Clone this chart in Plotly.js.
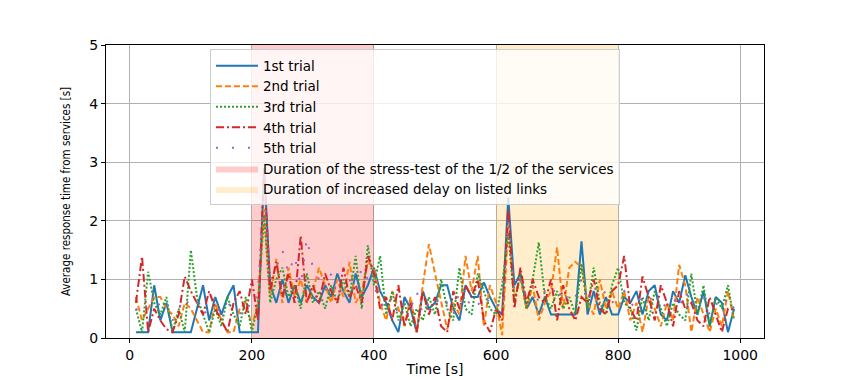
<!DOCTYPE html>
<html>
<head>
<meta charset="utf-8">
<script src="https://cdn.plot.ly/plotly-3.0.1.min.js"></script>
<style>html,body{margin:0;padding:0;background:#fff;}#chart{width:850px;height:380px;}</style>
</head>
<body>
<div id="chart"></div>
<script>
// Time axis: one sample every 10 s
const times = [];
for (let t = 10; t <= 990; t += 10) times.push(t);

const trial1 = [
  0.1,0.1,0.1,0.9,0.3,0.6,0.1,0.1,0.1,0.1,
  0.5,0.9,0.3,0.7,0.4,0.7,0.9,0.1,0.1,0.1,
  0.1,2.9,0.9,0.6,1.0,0.6,0.9,0.6,0.9,0.7,
  0.6,0.9,0.7,1.1,0.8,0.6,1.1,0.7,0.9,1.2,
  0.8,0.6,0.3,0.1,0.7,0.5,0.1,0.8,0.5,0.6,
  0.9,0.9,0.5,0.3,0.9,0.7,0.7,0.95,0.7,0.5,
  0.4,2.4,0.9,1.1,0.5,0.7,0.4,0.7,0.4,0.4,
  0.4,0.4,0.4,1.65,0.4,0.8,0.4,0.7,0.4,0.4,
  0.7,0.6,0.8,0.4,0.8,0.9,0.4,0.3,0.8,0.6,
  1.07,0.7,0.4,0.8,0.2,0.7,0.6,0.1,0.5
];
const trial2 = [
  0.7,0.3,0.5,0.7,0.7,0.5,0.4,0.2,0.6,0.5,
  0.3,0.1,0.1,0.6,0.3,0.1,0.1,0.5,0.6,0.2,
  0.6,2.2,0.7,1.35,0.6,1.2,0.7,1.0,0.6,0.8,
  1.2,0.9,0.6,1.0,0.7,1.3,0.6,0.8,1.3,1.2,
  0.6,0.3,0.8,0.5,0.2,0.7,0.1,0.9,1.6,1.1,
  0.6,0.15,0.6,0.4,1.4,0.8,1.4,0.2,0.9,0.6,
  0.05,1.9,0.7,1.0,0.5,0.9,0.3,0.6,0.8,1.55,
  0.5,1.2,1.3,1.2,0.6,0.4,1.0,0.5,0.8,0.5,
  0.8,0.3,0.6,0.1,0.7,0.5,0.2,0.6,0.3,1.25,
  0.9,0.1,0.7,0.4,0.1,0.5,0.2,0.8,0.3
];
const trial3 = [
  0.5,0.1,1.13,0.6,0.4,0.7,0.1,0.5,0.1,1.5,
  0.7,0.4,0.1,0.5,0.2,0.7,0.4,0.2,0.7,0.1,
  0.6,2.1,0.6,1.0,1.2,0.7,0.9,0.5,1.1,0.6,
  0.8,0.5,0.9,0.6,1.0,0.7,1.4,0.5,1.58,0.9,
  1.4,0.4,0.8,0.3,0.6,0.2,0.5,0.3,0.7,0.4,
  1.0,0.5,0.3,1.2,0.5,0.4,1.1,0.8,0.5,0.4,
  0.9,1.8,0.6,1.1,0.5,1.0,1.63,0.7,0.5,0.8,
  0.5,0.7,0.4,1.27,0.5,1.2,0.6,0.4,0.9,1.2,
  0.6,0.5,0.13,0.7,0.3,0.8,0.5,0.2,0.6,0.4,
  0.3,1.1,0.4,0.9,0.2,0.7,0.5,0.9,0.3
];
const trial4 = [
  0.6,1.39,0.1,0.5,0.3,0.15,0.1,0.4,1.05,0.8,
  0.6,0.4,0.8,0.5,0.3,0.1,0.6,0.8,0.4,1.0,
  0.3,2.9,0.8,1.3,0.7,1.1,0.6,1.75,0.6,0.9,
  0.6,1.1,0.8,0.6,1.2,0.7,0.9,0.6,1.4,1.1,
  0.5,0.7,0.3,0.9,0.2,0.6,0.1,0.8,0.4,0.7,
  0.2,0.1,0.8,0.5,0.9,0.7,1.0,0.3,0.1,0.5,
  0.3,2.2,0.5,1.2,0.6,1.0,0.7,0.6,1.0,0.3,
  0.9,0.5,0.3,0.7,0.6,1.0,0.5,0.4,0.8,0.9,
  1.4,0.5,0.3,1.05,0.7,0.3,0.9,0.6,0.2,0.8,
  0.5,0.6,0.3,0.2,0.7,0.4,0.1,0.5,0.5
];
const trial5 = [
  0.5,0.4,0.6,0.8,0.5,0.6,0.3,0.5,0.7,0.5,
  0.6,0.4,0.5,0.7,0.3,0.6,0.5,0.4,0.6,0.5,
  0.8,2.6,1.0,1.2,1.5,1.1,1.4,0.9,1.7,1.2,
  1.0,0.8,1.1,0.7,0.9,1.0,0.8,1.2,1.0,0.9,
  0.6,0.5,0.7,0.4,0.6,0.5,0.8,0.4,0.6,0.7,
  0.5,0.6,0.4,0.8,0.5,0.7,0.6,0.5,0.7,0.6,
  0.5,2.0,0.8,1.0,0.7,0.9,0.6,0.8,0.7,0.9,
  0.6,0.8,0.7,1.0,0.6,0.9,0.7,0.8,0.6,0.7,
  0.8,0.6,0.5,0.7,0.6,0.8,0.5,0.6,0.7,0.5,
  0.8,0.6,0.5,0.7,0.4,0.6,0.5,0.7,0.5
];

const trialNames = ["1st trial","2nd trial","3rd trial","4th trial","5th trial"];
const stressSpan = [200, 400];
const delaySpan = [600, 800];
const spanNames = ["Duration of the stress-test of the 1/2 of the services",
                   "Duration of increased delay on listed links"];
const yRange = [0, 5];

const colors = ["#1f77b4","#ff7f0e","#2ca02c","#d62728","#9467bd"];
const dashes = ["solid","6px,3px","2px,2px","8px,3px,2px,3px","2px,14px"];
const series = [trial1, trial2, trial3, trial4, trial5];

function spanTrace(span, name, color, rank) {
  return {
    x: [span[0], span[1], span[1], span[0], span[0]],
    y: [yRange[0], yRange[0], yRange[1], yRange[1], yRange[0]],
    mode: "lines", fill: "toself", fillcolor: color,
    line: {width: 0, color: color},
    name: name, legendrank: rank, hoverinfo: "skip"
  };
}

const traces = [
  spanTrace(stressSpan, spanNames[0], "rgba(255,0,0,0.2)", 6),
  spanTrace(delaySpan, spanNames[1], "rgba(255,165,0,0.2)", 7)
];
series.forEach((s, i) => {
  traces.push({
    x: times, y: s, mode: "lines", name: trialNames[i],
    line: {color: colors[i], width: 2, dash: dashes[i]},
    legendrank: i + 1
  });
});

const axisFont = {family: "DejaVu Sans, sans-serif", size: 14, color: "#000"};
const layout = {
  width: 850, height: 380,
  margin: {l: 106, r: 86, t: 45, b: 42},
  paper_bgcolor: "#fff", plot_bgcolor: "#fff",
  showlegend: true,
  legend: {
    x: 0.158, y: 0.985, xanchor: "left", yanchor: "top",
    bgcolor: "rgba(255,255,255,0.8)", bordercolor: "#cccccc", borderwidth: 1,
    font: {family: "DejaVu Sans, sans-serif", size: 13.5, color: "#000"},
    tracegroupgap: 0, itemwidth: 42
  },
  xaxis: {
    range: [-39, 1039], tickvals: [0,200,400,600,800,1000],
    showgrid: true, gridcolor: "#b0b0b0", gridwidth: 1,
    showline: true, linecolor: "#000", linewidth: 1, mirror: true,
    ticks: "outside", ticklen: 4, tickcolor: "#000",
    zeroline: false, tickfont: axisFont,
    title: {text: "Time [s]", font: axisFont, standoff: 2}
  },
  yaxis: {
    range: yRange, tickvals: [0,1,2,3,4,5],
    showgrid: true, gridcolor: "#b0b0b0", gridwidth: 1,
    showline: true, linecolor: "#000", linewidth: 1, mirror: true,
    ticks: "outside", ticklen: 4, tickcolor: "#000",
    zeroline: false, tickfont: axisFont,
    title: {text: "Average response time from services [s]",
            font: {family: "DejaVu Sans Condensed, Liberation Sans Narrow, sans-serif", size: 11.5, color: "#000"},
            standoff: 16}
  }
};

Plotly.newPlot("chart", traces, layout, {displayModeBar: false, staticPlot: true});
</script>
</body>
</html>
